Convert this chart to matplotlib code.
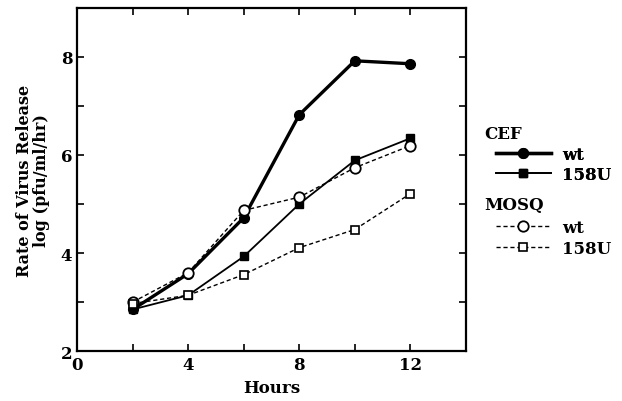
import numpy as np
import matplotlib
matplotlib.use("Agg")
import matplotlib.pyplot as plt
from matplotlib.ticker import MultipleLocator

# Data
hours = [2, 4, 6, 8, 10, 12]
cef_wt = [2.85, 3.58, 4.72, 6.82, 7.92, 7.86]
cef_158u = [2.85, 3.14, 3.93, 5.0, 5.89, 6.34]
mosq_wt = [3.0, 3.6, 4.87, 5.14, 5.74, 6.19]
mosq_158u = [2.97, 3.14, 3.56, 4.11, 4.48, 5.21]

plt.rcParams['font.family'] = ['DejaVu Serif']
plt.rcParams['font.weight'] = 'bold'

fig = plt.figure(figsize=(6.22, 4.02), dpi=100)
ax = fig.add_axes([0.124, 0.124, 0.625, 0.854])

l1, = ax.plot(hours, cef_wt, color="black", lw=2.4, marker="o", ms=7,
              mfc="black", mec="black")
l2, = ax.plot(hours, cef_158u, color="black", lw=1.3, marker="s", ms=5.5,
              mfc="black", mec="black")
l3, = ax.plot(hours, mosq_wt, color="black", lw=1.0, ls=(0, (3, 2)), marker="o",
              ms=7.5, mfc="white", mec="black", mew=1.3)
l4, = ax.plot(hours, mosq_158u, color="black", lw=1.0, ls=(0, (3, 2)), marker="s",
              ms=6, mfc="white", mec="black", mew=1.2)

ax.set_xlim(0, 14)
ax.set_ylim(2, 9)
ax.xaxis.set_minor_locator(MultipleLocator(2))
ax.yaxis.set_minor_locator(MultipleLocator(1))
ax.set_xticks([0, 4, 8, 12])
ax.set_yticks([2, 4, 6, 8])
ax.tick_params(which="both", direction="in", top=True, right=True,
               labelsize=12, width=1.2, length=5)
for s in ax.spines.values():
    s.set_linewidth(1.6)

ax.set_xlabel("Hours", fontsize=12, fontweight="bold", labelpad=4)
ax.set_ylabel("Rate of Virus Release\nlog (pfu/ml/hr)", fontsize=11.5,
              fontweight="bold", labelpad=8, linespacing=1.0)

# legend: group headers as text, entries as legends
fig.text(0.778, 0.665, "CEF", fontsize=12, fontweight="bold", va="center")
fig.text(0.778, 0.49, "MOSQ", fontsize=12, fontweight="bold", va="center")
leg_kw = dict(loc="upper left", frameon=False, fontsize=12, handlelength=3.3,
              handletextpad=0.7, labelspacing=0.2, borderpad=0.0,
              borderaxespad=0.0)
leg1 = fig.legend([l1, l2], ["wt", "158U"], bbox_to_anchor=(0.797, 0.635), **leg_kw)
leg2 = fig.legend([l3, l4], ["wt", "158U"], bbox_to_anchor=(0.797, 0.452), **leg_kw)
fig.add_artist(leg1)

fig.savefig("out.png", dpi=100)
